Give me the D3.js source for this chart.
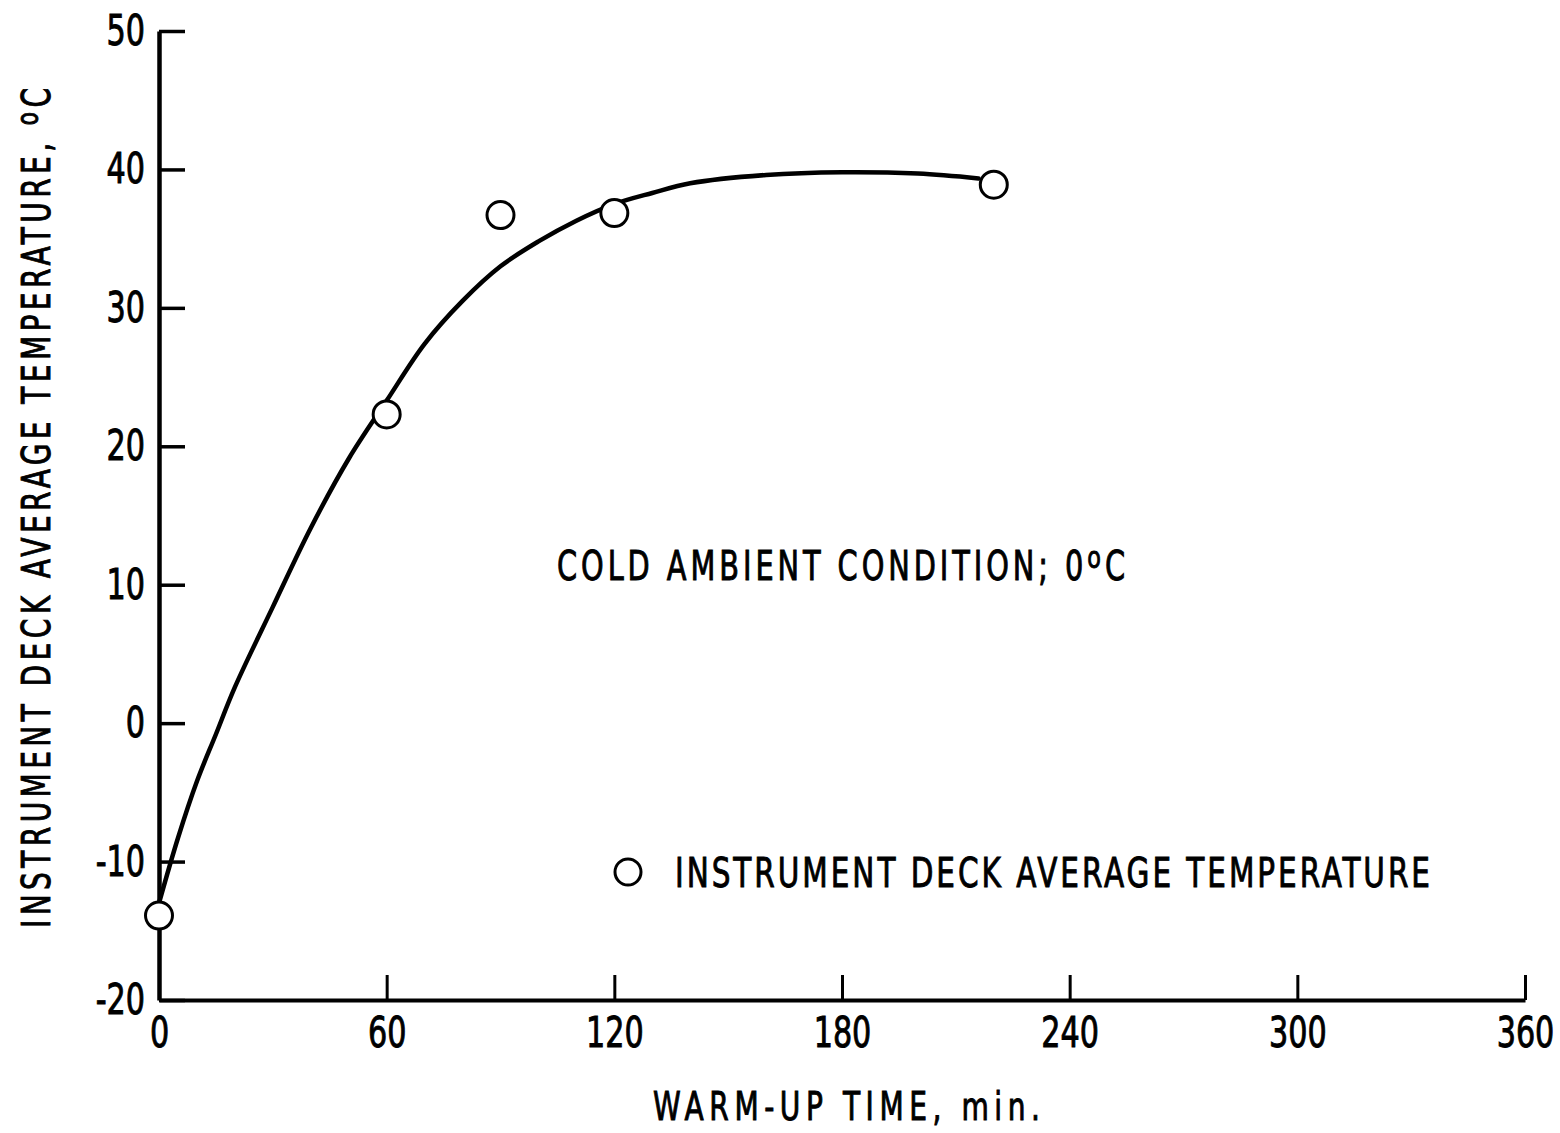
<!DOCTYPE html>
<html lang="en">

<head>
    <meta charset="UTF-8">
    <title>Instrument deck warm-up</title>
    <script src="https://d3js.org/d3.v7.min.js"></script>
    <style>
        body { margin: 0; background: #fff; }
        svg text { font-family: "Liberation Sans Narrow", "DejaVu Sans Condensed", "DejaVu Sans", sans-serif; fill: #000; stroke: #000; stroke-width: 0.9px; }
    </style>
</head>

<body>
    <div id="plot-container"></div>

    <script>
        // measured points, warm-up time (min) vs deck temp (C)
        const pointTimes = [0, 60, 90, 120, 220];
        const pointTemps = [-13.9, 22.3, 36.7, 36.85, 38.9];

        // faired curve
        const curveTimes = [0, 5, 10, 15, 20, 30, 40, 50, 60, 70, 80, 90, 100, 110, 120, 130, 140, 160, 180, 200, 216];
        const curveTemps = [-13.0, -8.3, -4.2, -0.8, 2.6, 8.4, 14.1, 19.1, 23.3, 27.4, 30.5, 33.0, 34.8, 36.3, 37.5, 38.3, 39.0, 39.6, 39.8, 39.7, 39.35];

        const xTicks = [0, 60, 120, 180, 240, 300, 360];
        const yTicks = [-20, -10, 0, 10, 20, 30, 40, 50];

        const W = 1560, H = 1133;
        const SX = 0.8; // squeeze glyphs, the original lettering is narrow

        const svg = d3.select("#plot-container")
            .append("svg")
            .attr("width", W)
            .attr("height", H);

        const x = d3.scaleLinear().domain([0, 360]).range([159, 1525]);
        const y = d3.scaleLinear().domain([-20, 50]).range([1000, 31]);

        // x axis, ticks pointing up into the plot
        const gx = svg.append("g")
            .attr("transform", `translate(0,${y(-20)})`)
            .call(d3.axisBottom(x).tickValues(xTicks).tickSizeInner(-25).tickSizeOuter(0)
                .tickPadding(17).tickFormat(d => String(d)));
        gx.select(".domain").attr("stroke-width", 4);
        gx.selectAll(".tick line").attr("stroke-width", 3);
        gx.selectAll(".tick text").attr("font-size", 42).attr("transform", `scale(${SX},1)`);

        // y axis, ticks pointing right
        const gy = svg.append("g")
            .attr("transform", `translate(${x(0)},0)`)
            .call(d3.axisLeft(y).tickValues(yTicks).tickSizeInner(-26).tickSizeOuter(0)
                .tickPadding(14).tickFormat(d => String(d)));
        gy.select(".domain").attr("stroke-width", 4.5);
        gy.selectAll(".tick line").attr("stroke-width", 3.5);
        gy.selectAll(".tick text").attr("font-size", 42)
            .attr("x", -14 / SX)
            .attr("transform", `scale(${SX},1)`);

        // curve
        const curveData = curveTimes.map((t, i) => [t, curveTemps[i]]);
        svg.append("path")
            .datum(curveData)
            .attr("fill", "none")
            .attr("stroke", "#000")
            .attr("stroke-width", 4.5)
            .attr("stroke-linecap", "round")
            .attr("d", d3.line().x(d => x(d[0])).y(d => y(d[1])).curve(d3.curveCatmullRom.alpha(0.5)));

        // data points
        svg.selectAll("circle.pt")
            .data(pointTimes.map((t, i) => [t, pointTemps[i]]))
            .enter()
            .append("circle")
            .attr("class", "pt")
            .attr("cx", d => x(d[0]))
            .attr("cy", d => y(d[1]))
            .attr("r", 13.5)
            .attr("fill", "#fff")
            .attr("stroke", "#000")
            .attr("stroke-width", 3);

        // helper: narrow text stretched to a given width
        function label(tx, ty, rot, size, width) {
            const t = svg.append("text")
                .attr("transform", `translate(${tx},${ty}) rotate(${rot}) scale(${SX},1)`)
                .attr("font-size", size)
                .attr("textLength", width / SX)
                .attr("lengthAdjust", "spacing");
            return t;
        }

        // annotation
        const note = label(557, 580, 0, 40, 568);
        note.append("tspan").text("COLD AMBIENT CONDITION; 0");
        note.append("tspan").attr("font-size", 31).attr("dy", -12).text("o");
        note.append("tspan").attr("dy", 12).text("C");

        // legend
        svg.append("circle")
            .attr("cx", 628).attr("cy", 872).attr("r", 13)
            .attr("fill", "#fff").attr("stroke", "#000").attr("stroke-width", 3);
        label(675, 887, 0, 41, 755).text("INSTRUMENT DECK AVERAGE TEMPERATURE");

        // axis titles
        label(653, 1120, 0, 39, 387).text("WARM-UP TIME,  min.");

        const yt = label(50, 928, -90, 39, 840);
        yt.append("tspan").text("INSTRUMENT DECK AVERAGE TEMPERATURE,  ");
        yt.append("tspan").attr("font-size", 30).attr("dy", -12).text("o");
        yt.append("tspan").attr("dy", 12).text("C");
    </script>
</body>

</html>
